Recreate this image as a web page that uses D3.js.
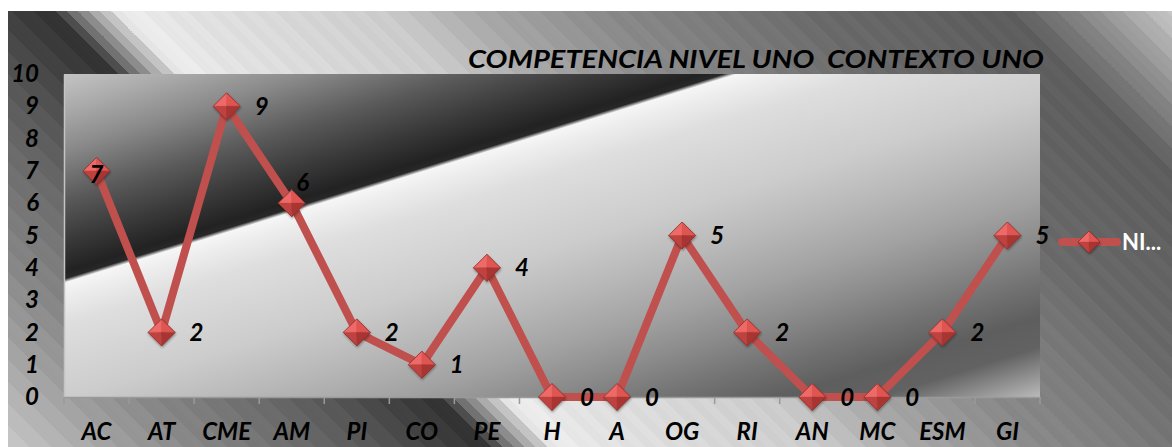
<!DOCTYPE html>
<html><head><meta charset="utf-8">
<script src="https://cdn.jsdelivr.net/npm/d3@7"></script>
<style>html,body{margin:0;padding:0;background:#fff;overflow:hidden}svg{display:block}</style>
</head><body><div id="chart"></div>
<script>
// ---- data ----
const categories = ["AC","AT","CME","AM","PI","CO","PE","H","A","OG","RI","AN","MC","ESM","GI"];
const values = [7,2,9,6,2,1,4,0,0,5,2,0,0,2,5];
const yTicks = [0,1,2,3,4,5,6,7,8,9,10];
const seriesName = "NI...";
const chartTitle = "COMPETENCIA NIVEL UNO  CONTEXTO UNO";

// ---- layout ----
const W = 1172, H = 447;
const plot = {x0: 64, x1: 1040, y0: 74, y1: 397};
const FONT = "Lato, 'Open Sans', sans-serif";
const RED = "#c0504d";

const svg = d3.select("#chart").append("svg").attr("width", W).attr("height", H);
const defs = svg.append("defs");

// outer background gradient (iso-lines along "\" diagonal), with banding
const outerPts = [[-439,200],[-330,160],[-260,138],[-200,122],[-130,104],[-65,85],[0,62],[40,50],[70,136],[110,238],[160,228],[370,204],[460,170],[590,138],[740,116],[800,106],[950,95],[1000,94],[1072,138],[1161,200]];
const gOuter = d3.scaleLinear().domain(outerPts.map(d=>d[0])).range(outerPts.map(d=>d[1])).clamp(true);
const eMin = -439, eMax = 1161, span = eMax - eMin;
const og = defs.append("linearGradient").attr("id","outerGrad").attr("gradientUnits","userSpaceOnUse")
  .attr("x1",8).attr("y1",447).attr("x2",808).attr("y2",-353);
const band = 11;
let k = 0;
for (let e = eMin; e < eMax; e += band, k++) {
  const e2 = Math.min(e + band, eMax);
  let v = Math.round(gOuter((e + e2) / 2) + (k % 2 ? 2 : -2));
  v = Math.max(0, Math.min(255, v));
  const c = d3.rgb(v, v, v).formatHex();
  og.append("stop").attr("offset", (e - eMin) / span).attr("stop-color", c);
  og.append("stop").attr("offset", (e2 - eMin) / span).attr("stop-color", c);
}

// plot area gradient
const plotPts = [[94,196],[130,170],[170,138],[220,90],[260,58],[292,34],[299,40],[303,246],[315,238],[345,222],[420,204],[470,184],[520,162],[560,140],[600,116],[640,94],[670,98],[719,184]];
const pg = defs.append("linearGradient").attr("id","plotGrad").attr("gradientUnits","userSpaceOnUse")
  .attr("x1",64).attr("y1",74).attr("x2",241).attr("y2",644);
plotPts.forEach(([d,v]) => pg.append("stop").attr("offset",(d-94)/625).attr("stop-color",d3.rgb(v,v,v).formatHex()));

const sh = defs.append("filter").attr("id","mshadow").attr("x","-50%").attr("y","-50%").attr("width","200%").attr("height","200%");
sh.append("feDropShadow").attr("dx",0.5).attr("dy",1.5).attr("stdDeviation",1.2).attr("flood-color","#000").attr("flood-opacity",0.35);

// backgrounds
svg.append("rect").attr("x",8).attr("y",11).attr("width",W-8).attr("height",H-11).attr("fill","url(#outerGrad)");
svg.append("rect").attr("x",plot.x0).attr("y",plot.y0).attr("width",plot.x1-plot.x0).attr("height",plot.y1-plot.y0).attr("fill","url(#plotGrad)");

// scales
const x = d3.scaleBand().domain(categories).range([plot.x0, plot.x1]);
const y = d3.scaleLinear().domain([0, 10]).range([plot.y1, plot.y0]);
const cx = c => x(c) + x.bandwidth() / 2;

// y axis
const yAx = svg.append("g").attr("transform",`translate(${plot.x0},0)`)
  .call(d3.axisLeft(y).tickValues(yTicks).tickSize(0).tickPadding(25));
yAx.select(".domain").attr("stroke","#c4c4c4").attr("stroke-width",1.5);
yAx.selectAll("text").attr("font-family",FONT).attr("font-size",24).attr("font-weight",700)
  .attr("font-style","italic").attr("fill","#000");

// x axis
const xAx = svg.append("g").attr("transform",`translate(0,${plot.y1})`)
  .call(d3.axisBottom(x).tickSize(0));
xAx.select(".domain").attr("stroke","#9a9a9a").attr("stroke-width",1.5);
xAx.selectAll("text").attr("y",43).attr("dy",0).attr("font-family",FONT).attr("font-size",24)
  .attr("font-weight",700).attr("font-style","italic").attr("fill","#000");
const bounds = categories.map(c => x(c)).concat([x.range()[1]]);
xAx.selectAll("line.bt").data(bounds).enter().append("line").attr("class","bt")
  .attr("x1",d=>d).attr("x2",d=>d).attr("y1",0).attr("y2",7).attr("stroke","#9a9a9a").attr("stroke-width",1.5);

// title
svg.append("text").attr("x",468).attr("y",68).text(chartTitle)
  .style("white-space","pre").attr("xml:space","preserve")
  .attr("font-family",FONT).attr("font-size",25).attr("font-weight",700).attr("font-style","italic")
  .attr("fill","#000").attr("textLength",576).attr("lengthAdjust","spacingAndGlyphs");

// line
const pts = categories.map((c,i) => ({c, v: values[i]}));
svg.append("path").datum(pts)
  .attr("d", d3.line().x(d=>cx(d.c)).y(d=>y(d.v)))
  .attr("fill","none").attr("stroke",RED).attr("stroke-width",8)
  .attr("stroke-linejoin","round").attr("stroke-linecap","round");

function marker(g, s) {
  const m = g.append("g").attr("filter","url(#mshadow)");
  const facets = [
    [[0,-s],[-s,0],[0,0],"#ee6b67"],
    [[0,-s],[s,0],[0,0],"#df5551"],
    [[-s,0],[0,s],[0,0],"#bd433f"],
    [[s,0],[0,s],[0,0],"#a83633"]
  ];
  facets.forEach(([a,b,c,col]) => m.append("path")
    .attr("d",`M${a[0]},${a[1]}L${b[0]},${b[1]}L${c[0]},${c[1]}Z`).attr("fill",col)
    .attr("stroke",col).attr("stroke-width",0.4));
  m.append("path").attr("d",`M0,${-s}L${s},0L0,${s}L${-s},0Z`).attr("fill","none")
    .attr("stroke","#8e2c2a").attr("stroke-width",0.8);
}

const mg = svg.append("g");
pts.forEach(d => marker(mg.append("g").attr("transform",`translate(${cx(d.c)},${y(d.v)})`), 13.5));

// data labels
const labelShift = {AC: {dx: 0, dy: 3, anchor: "middle"}, AM: {dx: 11, dy: -21, anchor: "middle"}};
svg.append("g").selectAll("text").data(pts).enter().append("text")
  .attr("x", d => cx(d.c) + (labelShift[d.c] ? labelShift[d.c].dx : 28))
  .attr("y", d => y(d.v) + (labelShift[d.c] ? labelShift[d.c].dy : 0))
  .attr("dy","0.36em")
  .attr("text-anchor", d => labelShift[d.c] ? labelShift[d.c].anchor : "start")
  .attr("font-family",FONT).attr("font-size",24).attr("font-weight",700).attr("font-style","italic")
  .attr("fill","#000").text(d => d.v);

// legend
const lg = svg.append("g").attr("transform","translate(0,242)");
lg.append("line").attr("x1",1062).attr("x2",1117).attr("y1",0).attr("y2",0)
  .attr("stroke",RED).attr("stroke-width",8).attr("stroke-linecap","round");
marker(lg.append("g").attr("transform","translate(1089,0)"), 11);
lg.append("text").attr("x",1122).attr("y",0).attr("dy","0.36em").text(seriesName)
  .attr("font-family",FONT).attr("font-size",22).attr("font-weight",700).attr("fill","#fff");
</script></body></html>
